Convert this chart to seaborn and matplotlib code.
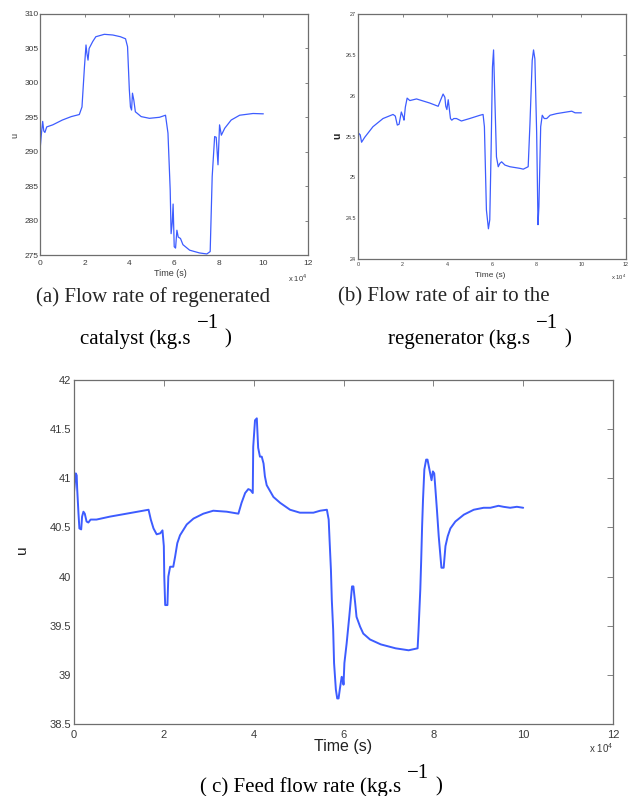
import matplotlib
matplotlib.use("Agg")
import matplotlib.pyplot as plt
import seaborn as sns

# ---------------------------------------------------------------------------
# Manipulated variables u of the FCC controller (time in units of 1e4 s)
# ---------------------------------------------------------------------------

# (a) regenerated catalyst flow rate
t_cat = [0.0, 0.06, 0.12, 0.17, 0.22, 0.3, 0.57, 1.0, 1.4, 1.76,
         1.88, 1.99, 2.06, 2.1, 2.15, 2.2, 2.36, 2.5, 2.88, 3.26,
         3.6, 3.83, 3.92, 4.0, 4.05, 4.1, 4.14, 4.2, 4.27, 4.53,
         4.9, 5.35, 5.62, 5.73, 5.83, 5.87, 5.92, 5.96, 6.01, 6.07,
         6.13, 6.19, 6.29, 6.4, 6.7, 7.14, 7.47, 7.62, 7.71, 7.82,
         7.89, 7.97, 8.04, 8.12, 8.27, 8.56, 8.94, 9.54, 10.0]
u_cat = [290.2, 292.5, 294.4, 293.0, 292.8, 293.6, 293.9, 294.6, 295.1, 295.4,
         296.5, 302.3, 305.5, 304.3, 303.3, 305.0, 306.0, 306.7, 307.05, 306.95,
         306.7, 306.4, 305.25, 299.0, 296.5, 296.05, 298.5, 297.5, 295.8, 295.1,
         294.85, 295.0, 295.3, 292.7, 284.4, 278.1, 279.6, 282.4, 276.2, 276.0,
         278.6, 277.6, 277.4, 276.5, 275.7, 275.3, 275.15, 275.5, 286.4, 292.2,
         292.1, 288.1, 293.9, 292.4, 293.4, 294.6, 295.3, 295.55, 295.5]

# (b) air flow rate to the regenerator
t_air = [0.0, 0.03, 0.1, 0.16, 0.3, 0.67, 1.12, 1.57, 1.67, 1.76,
         1.84, 1.94, 2.02, 2.06, 2.12, 2.2, 2.32, 2.62, 3.21, 3.59,
         3.69, 3.81, 3.89, 3.93, 3.98, 4.04, 4.08, 4.14, 4.2, 4.29,
         4.41, 4.63, 5.0, 5.46, 5.6, 5.66, 5.75, 5.84, 5.9, 5.96,
         6.02, 6.07, 6.13, 6.2, 6.28, 6.35, 6.43, 6.58, 6.8, 7.25,
         7.4, 7.62, 7.7, 7.8, 7.86, 7.92, 8.0, 8.06, 8.1, 8.18,
         8.25, 8.34, 8.45, 8.6, 8.89, 9.34, 9.57, 9.72, 10.0]
u_air = [25.39, 25.54, 25.52, 25.43, 25.49, 25.62, 25.72, 25.77, 25.75, 25.64,
         25.65, 25.8, 25.74, 25.7, 25.86, 25.97, 25.94, 25.96, 25.91, 25.87,
         25.94, 26.02, 25.98, 25.87, 25.83, 25.95, 25.86, 25.72, 25.7, 25.72,
         25.72, 25.69, 25.72, 25.76, 25.77, 25.62, 24.6, 24.37, 24.48, 25.33,
         26.35, 26.56, 25.94, 25.25, 25.13, 25.17, 25.19, 25.15, 25.13, 25.11,
         25.1, 25.13, 25.66, 26.43, 26.56, 26.45, 25.54, 24.42, 24.64, 25.62,
         25.76, 25.72, 25.72, 25.76, 25.78, 25.8, 25.81, 25.79, 25.79]

# (c) feed flow rate
t_feed = [0.0, 0.04, 0.06, 0.07, 0.1, 0.12, 0.16, 0.18, 0.21, 0.24,
          0.28, 0.32, 0.37, 0.5, 0.8, 1.17, 1.66, 1.71, 1.77, 1.84,
          1.92, 1.97, 2.0, 2.01, 2.03, 2.08, 2.1, 2.14, 2.21, 2.25,
          2.3, 2.36, 2.51, 2.66, 2.88, 3.1, 3.4, 3.66, 3.73, 3.81,
          3.88, 3.93, 3.98, 3.99, 4.03, 4.07, 4.1, 4.14, 4.18, 4.22,
          4.25, 4.29, 4.44, 4.59, 4.81, 5.03, 5.33, 5.48, 5.63, 5.67,
          5.69, 5.72, 5.74, 5.77, 5.79, 5.83, 5.86, 5.89, 5.92, 5.96,
          5.99, 6.0, 6.02, 6.07, 6.13, 6.19, 6.22, 6.26, 6.29, 6.37,
          6.44, 6.59, 6.83, 7.16, 7.45, 7.65, 7.67, 7.71, 7.73, 7.75,
          7.77, 7.8, 7.84, 7.87, 7.9, 7.93, 7.96, 7.99, 8.02, 8.04,
          8.08, 8.12, 8.18, 8.23, 8.27, 8.32, 8.38, 8.49, 8.68, 8.9,
          9.12, 9.27, 9.45, 9.56, 9.71, 9.86, 10.0]
u_feed = [40.86, 41.05, 41.03, 40.9, 40.64, 40.49, 40.48, 40.61, 40.66, 40.64,
          40.56, 40.55, 40.58, 40.58, 40.61, 40.64, 40.68, 40.58, 40.49, 40.43,
          40.44, 40.47, 40.31, 40.0, 39.71, 39.71, 40.0, 40.1, 40.1, 40.2,
          40.34, 40.42, 40.53, 40.59, 40.64, 40.67, 40.66, 40.64, 40.75, 40.85,
          40.89, 40.88, 40.85, 41.32, 41.59, 41.61, 41.31, 41.22, 41.22, 41.15,
          41.02, 40.93, 40.81, 40.75, 40.68, 40.65, 40.65, 40.67, 40.68, 40.58,
          40.37, 40.07, 39.76, 39.46, 39.12, 38.85, 38.76, 38.76, 38.86, 38.98,
          38.95, 38.9, 39.12, 39.32, 39.6, 39.9, 39.9, 39.73, 39.59, 39.49,
          39.42, 39.36, 39.31, 39.27, 39.25, 39.27, 39.45, 39.87, 40.17, 40.51,
          40.78, 41.09, 41.19, 41.19, 41.12, 41.05, 40.98, 41.07, 41.05, 40.93,
          40.68, 40.41, 40.09, 40.09, 40.31, 40.41, 40.49, 40.56, 40.63, 40.68,
          40.7, 40.7, 40.72, 40.71, 40.7, 40.71, 40.7]

# axis ticks
x_ticks = [0, 2, 4, 6, 8, 10, 12]
x_ticklabels = ["0", "2", "4", "6", "8", "10", "12"]
y_ticks_cat = [275, 280, 285, 290, 295, 300, 305, 310]
y_ticklabels_cat = ["275", "280", "285", "290", "295", "300", "305", "310"]
y_ticks_air = [24, 24.5, 25, 25.5, 26, 26.5, 27]
y_ticklabels_air = ["24", "24.5", "25", "25.5", "26", "26.5", "27"]
y_ticks_feed = [38.5, 39, 39.5, 40, 40.5, 41, 41.5, 42]
y_ticklabels_feed = ["38.5", "39", "39.5", "40", "40.5", "41", "41.5", "42"]

# captions
cap_a = ["(a) Flow rate of regenerated", "catalyst (kg.s"]
cap_b = ["(b) Flow rate of air to the", "regenerator (kg.s"]
cap_c = "( c) Feed flow rate (kg.s"
unit_exp = "\u22121"

# ---------------------------------------------------------------------------
sns.set_theme(style="white")
plt.rcParams["font.family"] = ["Liberation Sans", "DejaVu Sans"]
plt.rcParams["mathtext.fontset"] = "custom"
plt.rcParams["mathtext.rm"] = "Liberation Sans"

W, H = 631, 796
fig = plt.figure(figsize=(W / 100, H / 100), dpi=100)
fig.patch.set_facecolor("white")

LINE = "#3d5cff"
FRAME = "#6e6e6e"
TICKTXT = "#3a3a3a"
SERIF = ["Liberation Serif", "DejaVu Serif"]


def fx(x):
    return x / W


def fy(y):
    return 1 - y / H


def box(left, top, right, bottom):
    return [left / W, 1 - bottom / H, (right - left) / W, (bottom - top) / H]


def panel(rect, t, u, ylim, yticks, yticklabels, fs, ticklen, xpad, ypad, lw):
    ax = fig.add_axes(rect)
    sns.lineplot(x=t, y=u, ax=ax, color=LINE, linewidth=lw,
                 sort=False, estimator=None)
    ax.set_xlim(0, 12)
    ax.set_ylim(*ylim)
    ax.set_xticks(x_ticks)
    ax.set_xticklabels(x_ticklabels)
    ax.set_yticks(yticks)
    ax.set_yticklabels(yticklabels)
    ax.tick_params(direction="in", top=True, right=True, length=ticklen,
                   width=0.6, color=FRAME, labelsize=fs, labelcolor=TICKTXT)
    ax.tick_params(axis="x", pad=xpad)
    ax.tick_params(axis="y", pad=ypad)
    for s in ax.spines.values():
        s.set_color(FRAME)
        s.set_linewidth(0.9)
    ax.set_xlabel("")
    ax.set_ylabel("")
    ax.set_facecolor("white")
    return ax


ax_a = panel(box(40, 14, 308, 255), t_cat, u_cat, (275, 310),
             y_ticks_cat, y_ticklabels_cat, 6.0, 2.5, 3.5, 1.0, 0.9)
ax_b = panel(box(358, 14, 626, 259), t_air, u_air, (24, 27),
             y_ticks_air, y_ticklabels_air, 3.9, 2.5, 2.0, 1.5, 0.9)
ax_c = panel(box(74, 380, 613, 724), t_feed, u_feed, (38.5, 42),
             y_ticks_feed, y_ticklabels_feed, 8.0, 4.0, 4.0, 2.0, 1.4)

# axis titles
fig.text(fx(170), fy(273), "Time (s)", fontsize=6.5, color=TICKTXT, ha="center", va="center")
fig.text(fx(490), fy(275), "Time (s)", fontsize=6.0, color=TICKTXT, ha="center", va="center")
fig.text(fx(343), fy(747), "Time (s)", fontsize=11.5, color="#222222", ha="center", va="center")

fig.text(fx(15), fy(135), "u", fontsize=6.5, color=TICKTXT, rotation=90, ha="center", va="center")
fig.text(fx(337), fy(136), "u", fontsize=7.5, color="#222222", rotation=90,
         ha="center", va="center", fontweight="bold")
fig.text(fx(22), fy(550), "u", fontsize=11, color="#222222", rotation=90, ha="center", va="center")

fig.text(fx(307), fy(278), r"x 10$^4$", fontsize=5.5, color=TICKTXT, ha="right", va="center")
fig.text(fx(626), fy(277), r"x 10$^4$", fontsize=4.2, color=TICKTXT, ha="right", va="center")
fig.text(fx(613), fy(748), r"x 10$^4$", fontsize=7.0, color=TICKTXT, ha="right", va="center")

# captions with a raised unit exponent
renderer = fig.canvas.get_renderer()


def unit_caption(text, left, y, y_sup, size):
    t = fig.text(fx(left), fy(y), text, fontsize=size, family=SERIF,
                 color="black", ha="left", va="center")
    x_end = t.get_window_extent(renderer).x1
    s = fig.text((x_end + 6) / W, fy(y_sup), unit_exp, fontsize=size,
                 family=SERIF, color="black", ha="left", va="center")
    s_end = s.get_window_extent(renderer).x1
    fig.text((s_end + 6) / W, fy(y), ")", fontsize=size, family=SERIF,
             color="black", ha="left", va="center")


CAP = 15
fig.text(fx(36), fy(297), cap_a[0], fontsize=CAP, family=SERIF, ha="left", va="center")
unit_caption(cap_a[1], 80, 339, 324, CAP)
fig.text(fx(338), fy(297), cap_b[0], fontsize=CAP, family=SERIF, ha="left", va="center")
unit_caption(cap_b[1], 388, 339, 324, CAP)
unit_caption(cap_c, 200, 787, 773, CAP)

fig.savefig("out.png", dpi=100, facecolor="white")
